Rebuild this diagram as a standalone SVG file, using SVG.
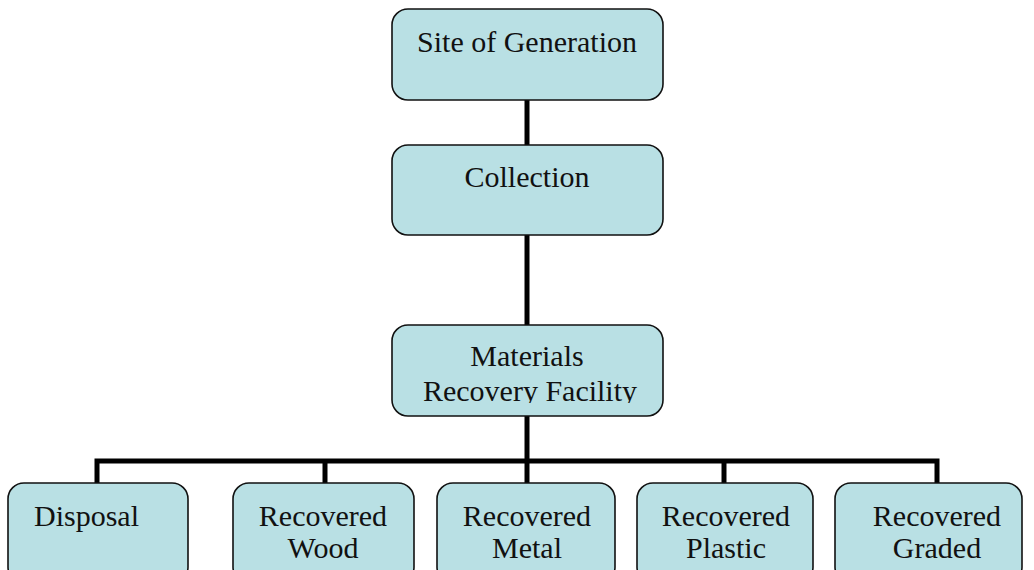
<svg xmlns="http://www.w3.org/2000/svg" width="1034" height="570" viewBox="0 0 1034 570">
<style>
.box{fill:#b9e0e4;stroke:#111;stroke-width:1.6}
.t{font-family:"Liberation Serif","Times New Roman",serif;font-size:30px;fill:#111;text-anchor:middle}
.c{stroke:#000;stroke-width:5;fill:none}
</style>
<defs>
<clipPath id="mrfclip"><rect x="392" y="325" width="271" height="78"/></clipPath>
</defs>
<rect width="1034" height="570" fill="#fff"/>
<g id="connectors">
<line class="c" x1="527" y1="100" x2="527" y2="145"/>
<line class="c" x1="527" y1="235" x2="527" y2="325"/>
<line class="c" x1="527" y1="416" x2="527" y2="461"/>
<polyline class="c" points="97,483 97,461 937,461 937,483" stroke-linejoin="miter"/>
<line class="c" x1="325" y1="461" x2="325" y2="483"/>
<line class="c" x1="527" y1="461" x2="527" y2="483"/>
<line class="c" x1="724" y1="461" x2="724" y2="483"/>
</g>
<g id="site">
<rect class="box" x="392" y="9" width="271" height="91" rx="16"/>
<text class="t" x="527" y="52">Site of Generation</text>
</g>
<g id="collection">
<rect class="box" x="392" y="145" width="271" height="90" rx="16"/>
<text class="t" x="527" y="187">Collection</text>
</g>
<g id="mrf">
<rect class="box" x="392" y="325" width="271" height="91" rx="16"/>
<g clip-path="url(#mrfclip)">
<text class="t" x="527" y="366">Materials</text>
<text class="t" x="530" y="401">Recovery Facility</text>
</g>
</g>
<g id="disposal">
<rect class="box" x="8" y="483" width="180" height="100" rx="16"/>
<text class="t" x="34" y="526" style="text-anchor:start">Disposal</text>
</g>
<g id="wood">
<rect class="box" x="233" y="483" width="181" height="100" rx="16"/>
<text class="t" x="323" y="526">Recovered</text>
<text class="t" x="323" y="558">Wood</text>
</g>
<g id="metal">
<rect class="box" x="437" y="483" width="178" height="100" rx="16"/>
<text class="t" x="527" y="526">Recovered</text>
<text class="t" x="527" y="558">Metal</text>
</g>
<g id="plastic">
<rect class="box" x="637" y="483" width="176" height="100" rx="16"/>
<text class="t" x="726" y="526">Recovered</text>
<text class="t" x="726" y="558">Plastic</text>
</g>
<g id="graded">
<rect class="box" x="835" y="483" width="187" height="100" rx="16"/>
<text class="t" x="937" y="526">Recovered</text>
<text class="t" x="937" y="558">Graded</text>
</g>
</svg>
